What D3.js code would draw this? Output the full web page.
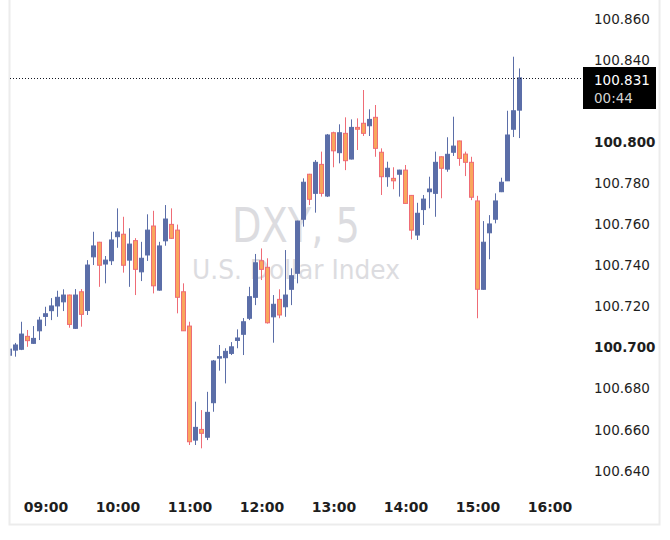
<!DOCTYPE html>
<html><head><meta charset="utf-8">
<script src="https://cdn.jsdelivr.net/npm/d3@7"></script>
<style>html,body{margin:0;padding:0;background:#fff;}svg{display:block;}</style>
</head><body>
<div id="chart"></div>
<script>
const times = ["08:30","08:35","08:40","08:45","08:50","08:55","09:00","09:05","09:10","09:15","09:20","09:25","09:30","09:35","09:40","09:45","09:50","09:55",
"10:00","10:05","10:10","10:15","10:20","10:25","10:30","10:35","10:40","10:45","10:50","10:55",
"11:00","11:05","11:10","11:15","11:20","11:25","11:30","11:35","11:40","11:45","11:50","11:55",
"12:00","12:05","12:10","12:15","12:20","12:25","12:30","12:35","12:40","12:45","12:50","12:55",
"13:00","13:05","13:10","13:15","13:20","13:25","13:30","13:35","13:40","13:45","13:50","13:55",
"14:00","14:05","14:10","14:15","14:20","14:25","14:30","14:35","14:40","14:45","14:50","14:55",
"15:00","15:05","15:10","15:15","15:20","15:25","15:30","15:35"];
const open = [100.6960,100.6985,100.6989,100.7052,100.7018,100.7079,100.7149,100.7177,100.7200,100.7220,100.7253,100.7091,100.7269,100.7178,100.7439,100.7510,100.7404,100.7420,
100.7537,100.7549,100.7423,100.7518,100.7366,100.7448,100.7589,100.7277,100.7517,100.7597,100.7569,100.7269,
100.7102,100.6547,100.6599,100.6561,100.6729,100.6946,100.6948,100.6969,100.7032,100.7062,100.7140,100.7242,
100.7420,100.7388,100.7147,100.7232,100.7196,100.7281,100.7359,100.7622,100.7841,100.7748,100.7889,100.7735,
100.8043,100.7946,100.8040,100.7915,100.8069,100.8089,100.8077,100.8118,100.7948,100.7829,100.7821,100.7841,
100.7861,100.7738,100.7545,100.7669,100.7756,100.7748,100.7926,100.7866,100.7948,100.8003,100.7939,100.7899,
100.7711,100.7281,100.7556,100.7622,100.7756,100.7809,100.8060,100.8153];
const high = [100.7000,100.7020,100.7123,100.7083,100.7102,100.7147,100.7196,100.7238,100.7274,100.7281,100.7255,100.7282,100.7282,100.7423,100.7561,100.7512,100.7443,100.7561,
100.7675,100.7634,100.7578,100.7530,100.7512,100.7646,100.7663,100.7512,100.7691,100.7675,100.7596,100.7310,
100.7123,100.6734,100.6693,100.6782,100.6937,100.7010,100.6994,100.7024,100.7086,100.7141,100.7293,100.7453,
100.7480,100.7432,100.7253,100.7281,100.7472,100.7383,100.7615,100.7821,100.7843,100.7910,100.7951,100.8037,
100.8048,100.8084,100.8118,100.8108,100.8113,100.8251,100.8157,100.8178,100.7967,100.7902,100.7875,100.7863,
100.7886,100.7740,100.7702,100.7740,100.7829,100.7951,100.7928,100.8021,100.8121,100.8005,100.7951,100.7926,
100.7736,100.7613,100.7642,100.7748,100.7824,100.8150,100.8413,100.8356];
const low = [100.6950,100.6953,100.6985,100.7001,100.7015,100.7034,100.7102,100.7131,100.7147,100.7175,100.7094,100.7088,100.7099,100.7156,100.7399,100.7293,100.7310,100.7399,
100.7483,100.7362,100.7293,100.7253,100.7321,100.7419,100.7261,100.7274,100.7493,100.7526,100.7164,100.7078,
100.6523,100.6523,100.6507,100.6547,100.6685,100.6885,100.6823,100.6961,100.6994,100.6961,100.7131,100.7204,
100.7326,100.7114,100.7021,100.7140,100.7147,100.7204,100.7310,100.7586,100.7691,100.7654,100.7732,100.7730,
100.7875,100.7894,100.7861,100.7913,100.7959,100.8027,100.8027,100.7926,100.7740,100.7780,100.7768,100.7732,
100.7698,100.7524,100.7521,100.7594,100.7675,100.7634,100.7724,100.7853,100.7930,100.7882,100.7832,100.7715,
100.7140,100.7279,100.7427,100.7602,100.7754,100.7808,100.8022,100.8017];
const close = [100.6990,100.7010,100.7063,100.7031,100.7042,100.7131,100.7162,100.7200,100.7242,100.7253,100.7110,100.7253,100.7159,100.7399,100.7492,100.7398,100.7423,100.7521,
100.7560,100.7398,100.7501,100.7378,100.7432,100.7569,100.7298,100.7492,100.7623,100.7529,100.7242,100.7079,
100.6539,100.6609,100.6580,100.6682,100.6932,100.6953,100.6979,100.7001,100.7044,100.7123,100.7245,100.7410,
100.7378,100.7118,100.7208,100.7156,100.7253,100.7347,100.7613,100.7802,100.7719,100.7899,100.7748,100.8032,
100.7955,100.8043,100.7907,100.8069,100.8060,100.8040,100.8108,100.7967,100.7829,100.7870,100.7809,100.7861,
100.7699,100.7569,100.7651,100.7720,100.7769,100.7899,100.7870,100.7938,100.7978,100.7918,100.7899,100.7729,
100.7281,100.7510,100.7599,100.7711,100.7802,100.8032,100.8150,100.8310];
// 100.820 is hidden behind the last-price label in the reference
const priceTicks = [100.640,100.660,100.680,100.700,100.720,100.740,100.760,100.780,100.800,100.840,100.860];
const boldTicks = [100.700,100.800];
const timeTicks = ["09:00","10:00","11:00","12:00","13:00","14:00","15:00","16:00"];
const lastPrice = 100.831;
const countdown = "00:44";
const titleText = "DXY, 5";
const subtitleText = "U.S. Dollar Index";

const W = 670, H = 540;
const UP = "#5b6ea8", DOWN_FILL = "#f9a65c", DOWN_LINE = "#ef6c76";
const parse = d3.timeParse("%H:%M");
const x = d3.scaleTime().domain([parse("09:00"), parse("16:00")]).range([45.5, 549.5]);
const y = d3.scaleLinear().domain([100.640, 100.860]).range([470.3, 18.3]);

const svg = d3.select("#chart").append("svg").attr("width", W).attr("height", H);
svg.append("rect").attr("width", W).attr("height", H).attr("fill", "#fff");

// frame
svg.append("rect").attr("x", 9.5).attr("y", -2).attr("width", 650).attr("height", 526.5)
  .attr("fill", "none").attr("stroke", "#ececec").attr("stroke-width", 2);

// watermark
svg.append("text").attr("x", 296).attr("y", 242).attr("text-anchor", "middle")
  .attr("font-family", "DejaVu Sans, sans-serif").attr("font-size", 48)
  .attr("textLength", 128).attr("lengthAdjust", "spacingAndGlyphs")
  .attr("fill", "#dcdce0").text(titleText);
svg.append("text").attr("x", 296).attr("y", 279).attr("text-anchor", "middle")
  .attr("font-family", "DejaVu Sans, sans-serif").attr("font-size", 26)
  .attr("textLength", 208).attr("lengthAdjust", "spacingAndGlyphs")
  .attr("fill", "#dcdce0").text(subtitleText);

svg.append("clipPath").attr("id", "plotclip").append("rect")
  .attr("x", 10.5).attr("y", 0).attr("width", 575).attr("height", 523);

const data = times.map((t, i) => ({t: parse(t), o: open[i], h: high[i], l: low[i], c: close[i]}));
const plot = svg.append("g").attr("clip-path", "url(#plotclip)");
const cg = plot.selectAll("g.candle").data(data).join("g").attr("class", "candle");
cg.append("line")
  .attr("x1", d => x(d.t)).attr("x2", d => x(d.t))
  .attr("y1", d => y(d.h)).attr("y2", d => y(d.l))
  .attr("stroke", d => d.c >= d.o ? UP : DOWN_LINE).attr("stroke-width", 1);
cg.append("rect")
  .attr("x", d => x(d.t) - 2).attr("width", 4)
  .attr("y", d => y(Math.max(d.o, d.c)))
  .attr("height", d => Math.max(0.8, Math.abs(y(d.o) - y(d.c))))
  .attr("fill", d => d.c >= d.o ? UP : DOWN_FILL)
  .attr("stroke", d => d.c >= d.o ? UP : DOWN_LINE).attr("stroke-width", 1);

// last price dotted line
const yl = Math.round(y(lastPrice)) + 0.5;
svg.append("line").attr("x1", 10).attr("x2", 583).attr("y1", yl).attr("y2", yl)
  .attr("stroke", "#131722").attr("stroke-width", 1).attr("stroke-dasharray", "1,2");

// price axis
const ya = svg.append("g").attr("transform", "translate(594,0)")
  .call(d3.axisRight(y).tickValues(priceTicks).tickFormat(d3.format(".3f")).tickSize(0).tickPadding(0));
ya.select(".domain").remove();
ya.selectAll("text").attr("x", 0).attr("dy", "0.36em")
  .attr("font-family", "DejaVu Sans, sans-serif").attr("font-size", 13.5)
  .attr("fill", "#1e1e1e")
  .attr("font-weight", d => boldTicks.some(b => Math.abs(b - d) < 1e-9) ? "bold" : "normal");

// x axis
const xa = svg.append("g").attr("transform", "translate(0,512)")
  .call(d3.axisBottom(x).tickValues(timeTicks.map(parse)).tickFormat(d3.timeFormat("%H:%M")).tickSize(0));
xa.select(".domain").remove();
xa.selectAll("text").attr("y", 0).attr("dy", null)
  .attr("font-family", "DejaVu Sans, sans-serif").attr("font-size", 14)
  .attr("font-weight", "bold").attr("fill", "#1e1e1e");

// last price label
svg.append("rect").attr("x", 583).attr("y", 67).attr("width", 73).attr("height", 42).attr("fill", "#000");
svg.append("text").attr("x", 594).attr("y", 85).attr("font-family", "DejaVu Sans, sans-serif")
  .attr("font-size", 13.5).attr("fill", "#fff").text(d3.format(".3f")(lastPrice));
svg.append("text").attr("x", 594).attr("y", 103).attr("font-family", "DejaVu Sans, sans-serif")
  .attr("font-size", 13.5).attr("fill", "#d4d4d4").text(countdown);
</script>
</body></html>
